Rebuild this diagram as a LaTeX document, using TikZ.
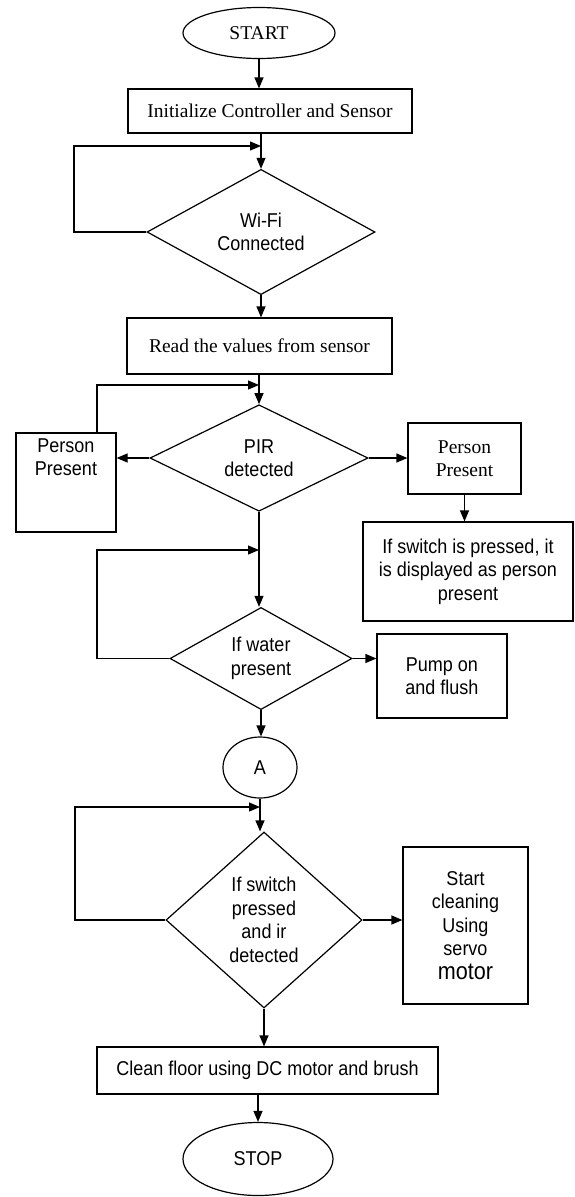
\documentclass[tikz,border=0pt]{standalone}
\usepackage{fontspec}
\setmainfont{Liberation Serif}
\setsansfont[FakeStretch=0.9]{Liberation Sans}
\usetikzlibrary{shapes.geometric,arrows.meta}

\tikzset{
  every path/.style={line width=1.2pt},
  serif/.style={font=\fontsize{19.5}{23}\selectfont\rmfamily},
  sans/.style={font=\fontsize{20}{23.5}\selectfont\sffamily},
  proc/.style={draw, rectangle, inner sep=0pt, align=center},
  dec/.style={draw, diamond, inner sep=0pt, align=center, sans},
  term/.style={draw, ellipse, inner sep=0pt, align=center},
  txt/.style={inner sep=0pt, align=center},
  arr/.style={-{Triangle[length=11pt,width=9pt]}},
}

\begin{document}
\begin{tikzpicture}[x=1pt,y=-1pt]
\useasboundingbox (0,0) rectangle (575,1197);

% main column
\node[term, serif, minimum width=152, minimum height=51] (start) at (259,33) {START};
\node[proc, serif, minimum width=284, minimum height=44] (init) at (270,111) {Initialize Controller and Sensor};
\node[dec, minimum width=228, minimum height=125] (wifi) at (261,232) {Wi-Fi\\Connected};
\node[proc, serif, minimum width=265, minimum height=56] (read) at (259.5,346) {Read the values from sensor};
\node[dec, minimum width=218, minimum height=99] (pir) at (259,458) {PIR\\detected};

% PIR branches
\node[proc, minimum width=100, minimum height=99] (lpp) at (66,482.5) {};
\node[txt, sans] (lppt) at (66,457) {Person\\Present};
\node[proc, serif, minimum width=113, minimum height=71] (rpp) at (464.5,458.5) {Person\\Present};
\node[proc, sans, minimum width=210, minimum height=99] (swbox) at (468,571.5) {If switch is pressed, it\\is displayed as person\\present};

% water check
\node[dec, minimum width=182, minimum height=97] (water) at (261,658.5) {If water\\present};
\node[proc, sans, minimum width=130, minimum height=84] (pump) at (442,676) {Pump on\\and flush};

% connector A
\node[term, sans, minimum width=74, minimum height=61] (a) at (260,767.5) {A};

% cleaning
\node[dec, minimum width=196, minimum height=176] (sw) at (264,920) {If switch\\pressed\\and ir\\detected};
\node[proc, sans, minimum width=125, minimum height=157] (servo) at (465.5,925.5)
  {Start\\cleaning\\Using\\servo\\{\fontsize{24}{27}\selectfont motor}};
\node[proc, sans, minimum width=341, minimum height=47] (clean) at (267.5,1070.5) {Clean floor using DC motor and brush};
\node[term, sans, minimum width=150, minimum height=73] (stop) at (258,1159) {STOP};

% loop corners
\coordinate (wl) at (74,146);
\coordinate (pl) at (97,385);
\coordinate (ql) at (97,550);
\coordinate (sl) at (75,807);

% connectors
\draw[arr] (start.south) -- (start.south |- init.north);
\draw[arr] (init.south -| wifi.north) -- (wifi.north);
\draw[arr] (wifi.west) -| (wl) -- (wl -| wifi.north);
\draw[arr] (wifi.south) -- (wifi.south |- read.north);
\draw[arr] (read.south -| pir.north) -- (pir.north);
\draw[arr] (lpp.north -| pl) -- (pl) -- (pl -| pir.north);
\draw[arr] (pir.west) -- (pir.west -| lpp.east);
\draw[arr] (pir.east) -- (pir.east -| rpp.west);
\draw[arr] (rpp.south) -- (rpp.south |- swbox.north);
\draw[arr] (pir.south) -- (pir.south |- water.north);
\draw[arr] (water.west) -| (ql) -- (ql -| pir.south);
\draw[arr] (water.east) -- (water.east -| pump.west);
\draw[arr] (water.south) -- (water.south |- a.north);
\draw[arr] (a.south) -- (a.south |- sw.north);
\draw[arr] (sw.west) -| (sl) -- (sl -| a.south);
\draw[arr] (sw.east) -- (sw.east -| servo.west);
\draw[arr] (sw.south) -- (sw.south |- clean.north);
\draw[arr] (clean.south -| stop.north) -- (stop.north);
\end{tikzpicture}
\end{document}
